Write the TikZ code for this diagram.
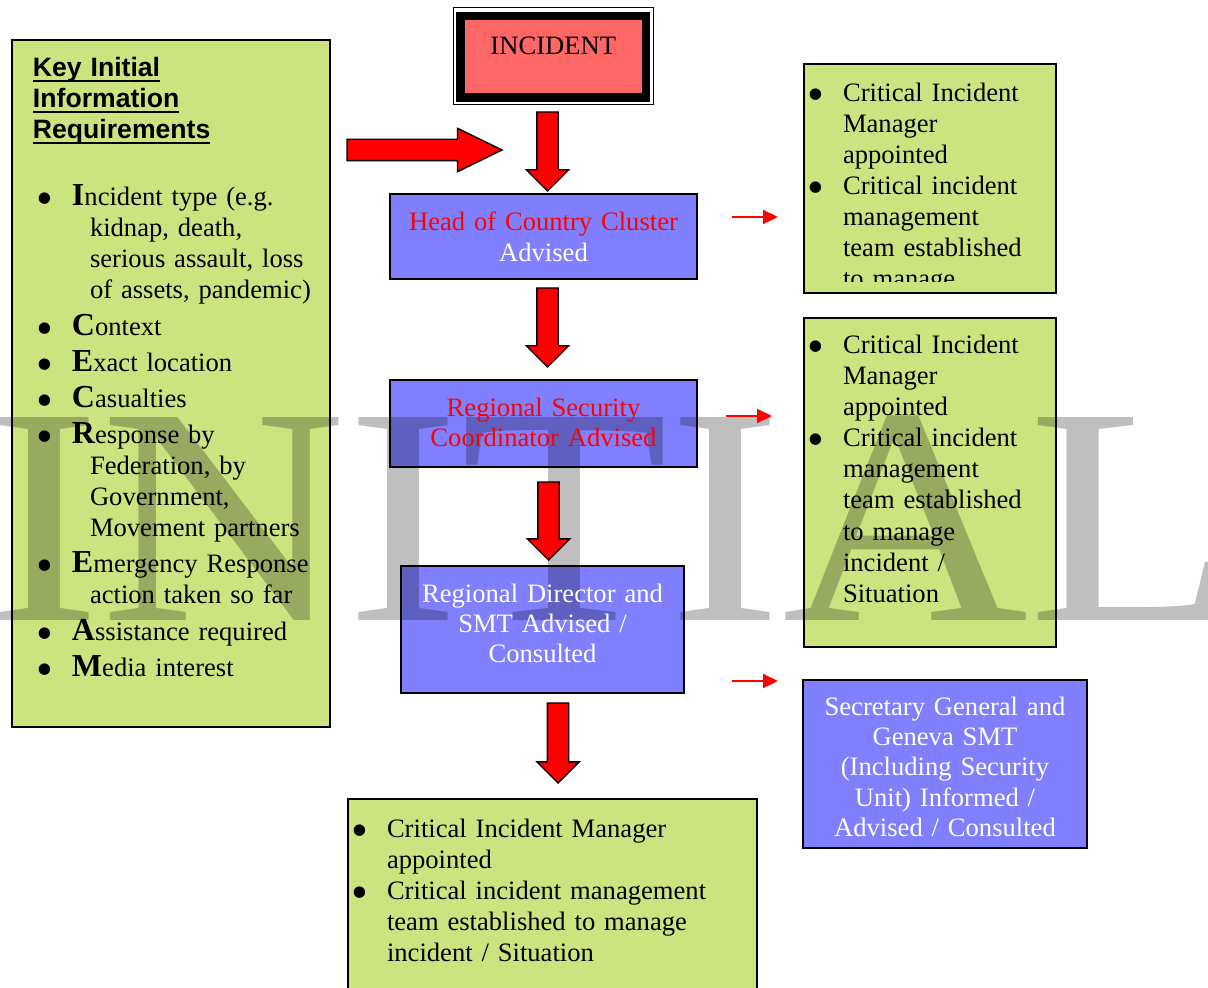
\documentclass[tikz,border=0pt]{standalone}
\usepackage{fontspec}
\setmainfont{Liberation Serif}
\setsansfont{Liberation Sans}
\usepackage{tikz}
\usetikzlibrary{arrows.meta, shapes.arrows}

\definecolor{boxgreen}{RGB}{204,228,128}
\definecolor{boxblue}{RGB}{128,128,255}
\definecolor{incred}{RGB}{255,102,102}

\newlength\ulwd
\newcommand\hdul[1]{\leavevmode\hspace*{4.5pt}\settowidth\ulwd{#1}\rlap{\rule[-2.4pt]{\ulwd}{1pt}}#1}
\newcommand\initial[1]{{\fontsize{16}{16}\selectfont\bfseries #1}}
\newcommand\bigdot{\raisebox{-4.5pt}{\scalebox{1.8}{\textbullet}}}
\newcommand\bul{\hspace*{1.5pt}\makebox[18pt][l]{\bigdot}}
\newcommand\kbul{\hspace*{6pt}\makebox[18pt][l]{\bigdot}}
\newcommand\cont{\hspace*{19.5pt}}
\newcommand\hang{\hspace*{33pt}}

\begin{document}
\begin{tikzpicture}[x=0.5pt, y=-0.5pt, >={Triangle[length=7.5pt, width=7pt]}]
  \tikzstyle{every node} = [outer sep=0pt]
  \tikzstyle{textbox} = [inner xsep=0pt, inner ysep=0pt, align=left, font=\fontsize{13.3}{15.5}\selectfont]
  \tikzstyle{greenbox} = [textbox, draw, line width=0.8pt, preaction={fill=boxgreen, blend mode=multiply}]
  \tikzstyle{bluebox} = [textbox, draw, line width=0.8pt, preaction={fill=boxblue, blend mode=multiply}, align=center, text=white, font=\fontsize{13.3}{15.2}\selectfont]
  \tikzstyle{bigarrow} = [single arrow, draw, fill=red, line width=0.7pt, inner xsep=0pt, inner ysep=5pt, minimum width=20pt, single arrow head extend=5.25pt, minimum height=39.5pt, anchor=tip]
  \tikzstyle{smallarrow} = [->, red, line width=1pt]

  \useasboundingbox (0,0) rectangle (1208,988);

  % watermark behind the boxes
  \node[anchor=base, text=black!25, inner sep=0pt, xscale=1.1, font=\fontsize{155}{155}\selectfont] (wm) at (612,620) {INITIAL};

  % incident box with its frame
  \node[textbox, draw, line width=4.25pt, fill=incred, align=center, text width=92.75pt, text height=19.5pt, text depth=21.25pt, anchor=base] (incident) at (553.25,55) {INCIDENT};
  \draw[line width=0.5pt] ([shift={(-7.5,-8)}]incident.north west) rectangle ([shift={(7,7.5)}]incident.south east);

  % key information box
  \node[greenbox, anchor=base west, inner xsep=6pt, text width=147pt, text height=18.5pt, text depth=325pt] (keyinfo) at (12,77) {%
    {\sffamily\bfseries \hdul{Key Initial}\\ \hdul{Information}\\ \hdul{Requirements}}\\[18pt]
    \kbul\initial{I}ncident type (e.g.\\
    \hang kidnap, death,\\
    \hang serious assault, loss\\
    \hang of assets, pandemic)\\[2.6pt]
    \kbul\initial{C}ontext\\[2.6pt]
    \kbul\initial{E}xact location\\[2.6pt]
    \kbul\initial{C}asualties\\[2.6pt]
    \kbul\initial{R}esponse by\\
    \hang Federation, by\\
    \hang Government,\\
    \hang Movement partners\\[2.6pt]
    \kbul\initial{E}mergency Response\\
    \hang action taken so far\\[2.6pt]
    \kbul\initial{A}ssistance required\\[2.6pt]
    \kbul\initial{M}edia interest};

  % flow boxes
  \node[bluebox, anchor=base, text width=153.5pt, text height=18.5pt, text depth=24pt] (hocc) at (543.5,231) {\textcolor{red}{Head of Country Cluster}\\Advised};
  \node[bluebox, anchor=base, text=red, text width=153.5pt, text height=18pt, text depth=25.5pt] (rsc) at (543.5,416) {Regional Security\\Coordinator Advised};
  \node[bluebox, anchor=base, text width=141.5pt, text height=18pt, text depth=45.5pt] (rdir) at (542.5,602) {Regional Director and\\SMT Advised /\\Consulted};
  \node[bluebox, anchor=base, text width=142pt, text height=17.5pt, text depth=66.5pt] (sg) at (945,715) {Secretary General and\\Geneva SMT\\(Including Security\\Unit) Informed /\\Advised / Consulted};

  % manager boxes
  \node[greenbox, anchor=base west, text width=126pt, text height=19pt, text depth=95.5pt] (mgr1) at (804,102) {};
  \begin{scope}
    \clip (mgr1.north west) rectangle (1056,282);
    \node[textbox, anchor=base west, text width=126pt] (mgr1text) at (804,102) {%
      \bul Critical Incident\\ \cont Manager\\ \cont appointed\\
      \bul Critical incident\\ \cont management\\ \cont team established\\ \cont to manage};
  \end{scope}
  \node[greenbox, anchor=base west, text width=126pt, text height=18pt, text depth=146.5pt] (mgr2) at (804,354) {%
    \bul Critical Incident\\ \cont Manager\\ \cont appointed\\
    \bul Critical incident\\ \cont management\\ \cont team established\\ \cont to manage\\ \cont incident /\\ \cont Situation};
  \node[greenbox, anchor=base west, text width=204.5pt, text height=19pt, text depth=81.5pt] (cim) at (348,837) {%
    \bul Critical Incident Manager\\ \cont appointed\\
    \bul Critical incident management\\ \cont team established to manage\\ \cont incident / Situation};

  % block arrows
  \node[bigarrow, minimum height=77.5pt, minimum width=21pt, single arrow head extend=5.5pt, single arrow tip angle=52] (into) at (502,150) {};
  \node[bigarrow, rotate=-90] (down1) at (547.5,191) {};
  \node[bigarrow, rotate=-90] (down2) at (547.5,367) {};
  \node[bigarrow, rotate=-90, minimum height=39pt] (down3) at (548.5,560) {};
  \node[bigarrow, rotate=-90, minimum height=40pt] (down4) at (558,783) {};

  % small arrows
  \coordinate (tohead) at (732,217);
  \coordinate (torsc) at (726,416);
  \coordinate (tosg) at (732,681);
  \draw[smallarrow] (tohead) -- ++(46,0);
  \draw[smallarrow] (torsc) -- ++(46,0);
  \draw[smallarrow] (tosg) -- ++(46,0);
\end{tikzpicture}
\end{document}
